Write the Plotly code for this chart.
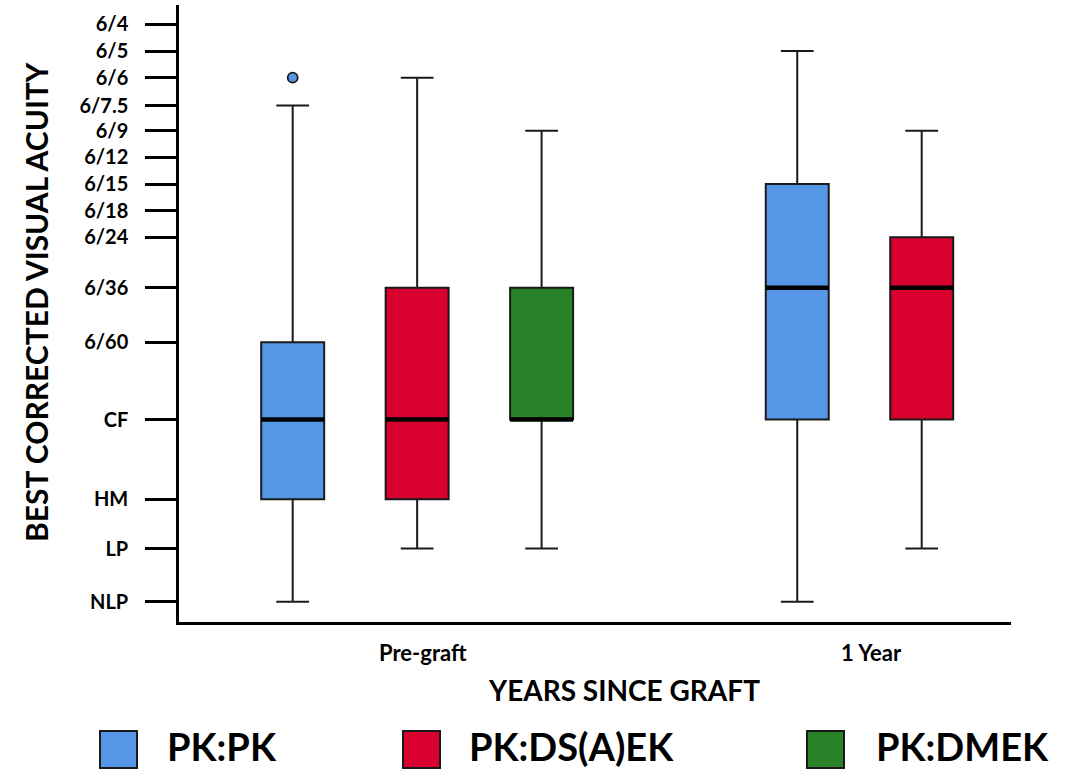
import plotly.graph_objects as go

# ---------------- data ----------------
categories = ["Pre-graft", "1 Year"]
groups = ["PK:PK", "PK:DS(A)EK", "PK:DMEK"]
colors = ["#5596E6", "#D7002F", "#2A8228"]

# acuity scale (ordinal positions of each acuity level on the value axis)
acuity_labels = ["NLP", "LP", "HM", "CF", "6/60", "6/36", "6/24", "6/18",
                 "6/15", "6/12", "6/9", "6/7.5", "6/6", "6/5", "6/4"]
acuity_values = [0, 2, 3.85, 6.85, 9.75, 11.8, 13.7, 14.7,
                 15.7, 16.7, 17.7, 18.65, 19.7, 20.7, 21.7]

# PK:PK
pkpk_x = ["Pre-graft", "1 Year"]
pkpk_lower = ["NLP", "NLP"]
pkpk_q1 = ["HM", "CF"]
pkpk_median = ["CF", "6/36"]
pkpk_q3 = ["6/60", "6/15"]
pkpk_upper = ["6/7.5", "6/5"]
pkpk_outliers = [["6/6"], []]

# PK:DS(A)EK
pkds_x = ["Pre-graft", "1 Year"]
pkds_lower = ["LP", "LP"]
pkds_q1 = ["HM", "CF"]
pkds_median = ["CF", "6/36"]
pkds_q3 = ["6/36", "6/24"]
pkds_upper = ["6/6", "6/9"]
pkds_outliers = [[], []]

# PK:DMEK
pkdm_x = ["Pre-graft"]
pkdm_lower = ["LP"]
pkdm_q1 = ["CF"]
pkdm_median = ["CF"]
pkdm_q3 = ["6/36"]
pkdm_upper = ["6/9"]
pkdm_outliers = [[]]

series = [
    (pkpk_x, pkpk_lower, pkpk_q1, pkpk_median, pkpk_q3, pkpk_upper, pkpk_outliers),
    (pkds_x, pkds_lower, pkds_q1, pkds_median, pkds_q3, pkds_upper, pkds_outliers),
    (pkdm_x, pkdm_lower, pkdm_q1, pkdm_median, pkdm_q3, pkdm_upper, pkdm_outliers),
]

lvl = dict(zip(acuity_labels, acuity_values))


def v(lst):
    return [lvl[s] for s in lst]


FONT = "Lato"
INK = "#1a1a1a"

fig = go.Figure()

for name, col, (x, lo, q1, med, q3, up, outl) in zip(groups, colors, series):
    has_pts = any(len(o) for o in outl)
    fig.add_trace(go.Box(
        name=name, x=x, y=[v(o) for o in outl] if has_pts else None,
        lowerfence=v(lo), q1=v(q1), median=v(med), q3=v(q3), upperfence=v(up),
        offsetgroup=name, fillcolor=col,
        line=dict(color=INK, width=2), whiskerwidth=0.52,
        boxpoints="outliers" if has_pts else False,
        marker=dict(color=col, size=10, line=dict(color=INK, width=1.8)),
        showlegend=False,
    ))

# thicker median lines drawn on top, in the same slots
for name, (x, lo, q1, med, q3, up, outl) in zip(groups, series):
    m = v(med)
    fig.add_trace(go.Box(
        name=name + " median", x=x,
        lowerfence=m, q1=m, median=m, q3=m, upperfence=m,
        offsetgroup=name, fillcolor="rgba(0,0,0,0)",
        line=dict(color="#000000", width=4.5), whiskerwidth=0,
        boxpoints=False, showlegend=False, hoverinfo="skip",
    ))

# ---------------- layout geometry (pixels) ----------------
W, H = 1092, 773
L, R, T, B = 179, 81, 5, 151
pw, ph = W - L - R, H - T - B


def px_x(px):
    return (px - L) / pw


def px_y(py):
    return (H - B - py) / ph


annotations = []
# category labels
cat_shift = [6, -50]
for c, s in zip(categories, cat_shift):
    annotations.append(dict(x=c, xref="x", y=px_y(652), yref="paper", xshift=s,
                            text=c, showarrow=False, xanchor="center", yanchor="middle",
                            font=dict(family=FONT, size=22, color="#000", weight="bold")))
# axis titles
annotations.append(dict(x=px_x(624), y=px_y(690), xref="paper", yref="paper",
                        text="YEARS SINCE GRAFT", showarrow=False,
                        xanchor="center", yanchor="middle",
                        font=dict(family=FONT, size=28, color="#000", weight="bold")))
annotations.append(dict(x=px_x(36), y=px_y(302), xref="paper", yref="paper",
                        text="BEST CORRECTED VISUAL ACUITY", showarrow=False, textangle=-90,
                        xanchor="center", yanchor="middle",
                        font=dict(family=FONT, size=30, color="#000", weight="bold")))

# legend (drawn as swatches + text)
shapes = []
sw_left = [100, 403, 807]
txt_left = [166, 468, 875]
for name, col, sx, tx in zip(groups, colors, sw_left, txt_left):
    shapes.append(dict(type="rect", xref="paper", yref="paper",
                       x0=px_x(sx), x1=px_x(sx + 37), y0=px_y(768), y1=px_y(731),
                       fillcolor=col, line=dict(color=INK, width=2)))
    annotations.append(dict(x=px_x(tx), y=px_y(746), xref="paper", yref="paper",
                            text=name, showarrow=False, xanchor="left", yanchor="middle",
                            borderpad=0,
                            font=dict(family=FONT, size=38, color="#000", weight="bold")))

fig.update_layout(
    width=W, height=H,
    margin=dict(l=L, r=R, t=T, b=B, autoexpand=False),
    paper_bgcolor="white", plot_bgcolor="white",
    boxmode="group", boxgap=0.26, boxgroupgap=0.494,
    showlegend=False,
    annotations=annotations, shapes=shapes,
    xaxis=dict(type="category", categoryorder="array", categoryarray=categories,
               range=[-0.472, 1.177], showticklabels=False, ticks="",
               showline=True, linecolor="#000", linewidth=2.5,
               showgrid=False, zeroline=False, automargin=False),
    yaxis=dict(range=[-0.76, 22.43], tickmode="array",
               tickvals=acuity_values, ticktext=acuity_labels,
               ticks="outside", ticklen=31, tickwidth=2.5, tickcolor="#000",
               ticklabelstandoff=13,
               tickfont=dict(family=FONT, size=20, color="#000", weight="bold"),
               showline=True, linecolor="#000", linewidth=2.5,
               showgrid=False, zeroline=False, automargin=False),
)

fig.write_html("out.html", config={"displayModeBar": False},
               post_script="document.body.style.margin='0px';")
